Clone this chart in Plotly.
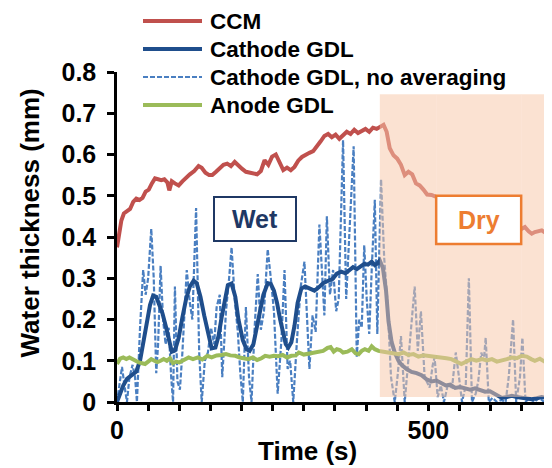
import plotly.graph_objects as go

# ---------------- data ----------------
ccm_t = [0, 3, 7, 11, 16, 21, 26, 31, 36, 41, 46, 51, 56, 61, 66, 71, 76, 81, 84, 88, 93, 99,
         105, 111, 117, 124, 131, 136, 142, 148, 153, 159, 165, 171, 177, 183, 189, 195, 201,
         207, 213, 219, 225, 231, 237, 243, 249, 255, 261, 267, 273, 279, 285, 291, 297, 303,
         309, 315, 321, 327, 333, 339, 345, 351, 357, 363, 369, 375, 381, 387, 393, 399, 405,
         411, 417, 423, 428, 433, 438, 444, 450, 456, 462, 468, 474, 480, 486, 492, 498, 505,
         513, 525, 540, 555, 570, 585, 600, 615, 630, 645, 650, 655, 661, 666, 671, 677, 682,
         688, 693, 698]
ccm_y = [0.375, 0.41, 0.44, 0.457, 0.462, 0.468, 0.485, 0.493, 0.49, 0.495, 0.51, 0.515, 0.53,
         0.542, 0.54, 0.538, 0.54, 0.532, 0.513, 0.535, 0.53, 0.525, 0.535, 0.545, 0.552, 0.56,
         0.572, 0.568, 0.556, 0.55, 0.55, 0.558, 0.565, 0.575, 0.578, 0.572, 0.582, 0.572,
         0.565, 0.558, 0.556, 0.552, 0.552, 0.56, 0.586, 0.575, 0.595, 0.6, 0.578, 0.562,
         0.568, 0.562, 0.57, 0.585, 0.594, 0.6, 0.604, 0.608, 0.622, 0.632, 0.645, 0.65,
         0.642, 0.648, 0.638, 0.645, 0.655, 0.65, 0.66, 0.652, 0.657, 0.662, 0.655, 0.665,
         0.662, 0.668, 0.672, 0.655, 0.615, 0.598, 0.59, 0.575, 0.55, 0.558, 0.552, 0.53,
         0.525, 0.515, 0.503, 0.502, 0.497, 0.485, 0.475, 0.46, 0.452, 0.445, 0.438, 0.432,
         0.428, 0.423, 0.42, 0.424, 0.414, 0.408, 0.412, 0.415, 0.416, 0.41, 0.404, 0.404]

gdl_t = [0, 5, 10, 16, 26, 31, 37, 42, 48, 53, 58, 63, 68, 73, 79, 84, 88, 93, 99, 105, 111,
         117, 123, 128, 134, 140, 146, 152, 158, 163, 168, 173, 178, 184, 190, 195, 202, 208,
         213, 219, 224, 230, 235, 242, 247, 252, 257, 262, 267, 271, 275, 280, 285, 290, 296,
         302, 308, 317, 324, 331, 339, 346, 353, 360, 367, 374, 379, 385, 391, 397, 403, 409,
         414, 418, 422, 427, 432, 436, 441, 446, 452, 457, 465, 473, 481, 489, 497, 505, 513,
         521, 528, 535, 543, 551, 559, 567, 575, 583, 591, 599, 607, 613, 618, 626, 634, 642,
         650, 658, 666, 674, 682, 690, 698]
gdl_y = [0.0, 0.02, 0.04, 0.056, 0.068, 0.074, 0.10, 0.14, 0.197, 0.235, 0.258, 0.255, 0.235,
         0.215, 0.18, 0.145, 0.122, 0.125, 0.155, 0.205, 0.25, 0.28, 0.294, 0.288, 0.255, 0.21,
         0.165, 0.13, 0.132, 0.16, 0.205, 0.25, 0.283, 0.287, 0.255, 0.2, 0.15, 0.128, 0.124,
         0.14, 0.175, 0.22, 0.26, 0.288, 0.286, 0.27, 0.24, 0.2, 0.165, 0.14, 0.132, 0.145,
         0.185, 0.24, 0.275, 0.28, 0.276, 0.27, 0.278, 0.288, 0.294, 0.298, 0.311, 0.316,
         0.312, 0.322, 0.327, 0.322, 0.33, 0.335, 0.333, 0.34, 0.332, 0.336, 0.343, 0.325,
         0.27, 0.195, 0.145, 0.12, 0.1, 0.09, 0.08, 0.073, 0.07, 0.065, 0.055, 0.05, 0.052,
         0.046, 0.04, 0.042, 0.034, 0.036, 0.032, 0.03, 0.033, 0.028, 0.025, 0.026, 0.02,
         0.015, 0.01, 0.012, 0.015, 0.012, 0.01, 0.008, 0.007, 0.009, 0.012, 0.01, 0.009]

raw_t = [0, 4, 8, 12, 16, 20, 25, 29, 32, 37, 42, 46, 50, 55, 59, 63, 66, 70, 74, 78, 83, 87,
         90, 93, 97, 101, 105, 112, 117, 121, 127, 132, 136, 141, 146, 151, 156, 160, 165, 169,
         175, 180, 184, 189, 194, 198, 202, 207, 212, 216, 221, 226, 231, 236, 242, 247, 252,
         258, 264, 269, 274, 278, 283, 289, 295, 301, 305, 309, 314, 319, 325, 330, 333, 337,
         342, 347, 352, 356, 363, 368, 373, 380, 385, 389, 393, 397, 401, 405, 409, 414, 418,
         424, 429, 434, 440, 446, 451, 456, 462, 467, 473, 478, 483, 488, 494, 502, 507, 510,
         515, 520, 525, 531, 538, 544, 550, 554, 560, 565, 570, 576, 580, 585, 589, 592, 597,
         603, 610, 617, 624, 629, 636, 641, 647, 651, 656, 662, 670, 678, 686, 694, 698]
raw_y = [0.0, 0.05, 0.085, 0.04, 0.0, 0.06, 0.09, 0.06, 0.0, 0.18, 0.32, 0.26, 0.30, 0.42,
         0.30, 0.07, 0.14, 0.33, 0.20, 0.14, 0.18, 0.06, 0.0, 0.28, 0.05, 0.03, 0.12, 0.32,
         0.24, 0.20, 0.47, 0.12, 0.0, 0.10, 0.12, 0.18, 0.14, 0.23, 0.26, 0.06, 0.22, 0.30,
         0.375, 0.25, 0.17, 0.07, 0.0, 0.23, 0.06, 0.0, 0.18, 0.31, 0.175, 0.22, 0.37, 0.30,
         0.22, 0.02, 0.15, 0.32, 0.08, 0.10, 0.0, 0.15, 0.28, 0.34, 0.20, 0.08, 0.21, 0.17,
         0.43, 0.30, 0.21, 0.45, 0.26, 0.32, 0.22, 0.25, 0.635, 0.25, 0.40, 0.62, 0.11, 0.20,
         0.18, 0.38, 0.25, 0.165, 0.32, 0.49, 0.165, 0.54, 0.35, 0.25, 0.06, 0.0, 0.07, 0.16,
         0.0, 0.09, 0.18, 0.28, 0.124, 0.22, 0.06, 0.035, 0.09, 0.108, 0.012, 0.04, 0.0, 0.04,
         0.035, 0.12, 0.05, 0.0, 0.04, 0.30, 0.0, 0.02, 0.05, 0.12, 0.10, 0.156, 0.0, 0.01,
         0.0, 0.005, 0.0, 0.06, 0.20, 0.0, 0.06, 0.156, 0.0, 0.01, 0.0, 0.01, 0.0, 0.008, 0.0]

anode_t = [0, 5, 10, 15, 20, 25, 30, 35, 40, 45, 50, 55, 60, 65, 70, 75, 80, 85, 90, 95, 100,
           108, 115, 122, 130, 137, 145, 152, 160, 168, 175, 182, 190, 197, 204, 211, 218, 225,
           232, 238, 245, 252, 259, 266, 273, 280, 287, 292, 300, 307, 315, 323, 331, 338, 343,
           348, 353, 358, 363, 370, 377, 383, 388, 393, 398, 404, 409, 414, 420, 428, 436, 444,
           452, 460, 468, 476, 484, 492, 500, 510, 521, 529, 537, 545, 553, 561, 569, 577, 586,
           594, 602, 610, 618, 626, 634, 642, 650, 658, 665, 671, 679, 687, 693, 698]
anode_y = [0.092, 0.105, 0.108, 0.104, 0.108, 0.103, 0.1, 0.096, 0.093, 0.092, 0.098, 0.104,
           0.1, 0.097, 0.1, 0.104, 0.1, 0.106, 0.094, 0.098, 0.096, 0.102, 0.108, 0.104, 0.108,
           0.103, 0.112, 0.108, 0.113, 0.114, 0.116, 0.113, 0.112, 0.108, 0.106, 0.104, 0.108,
           0.102, 0.106, 0.112, 0.11, 0.112, 0.111, 0.114, 0.108, 0.112, 0.113, 0.12, 0.115,
           0.117, 0.12, 0.124, 0.124, 0.131, 0.133, 0.122, 0.128, 0.126, 0.12, 0.122, 0.128,
           0.118, 0.116, 0.124, 0.128, 0.124, 0.135, 0.128, 0.124, 0.122, 0.12, 0.118, 0.116,
           0.12, 0.114, 0.116, 0.11, 0.113, 0.112, 0.11, 0.108, 0.106, 0.104, 0.097, 0.092,
           0.098, 0.104, 0.1, 0.104, 0.101, 0.104, 0.098, 0.1, 0.104, 0.108, 0.106, 0.112,
           0.11, 0.104, 0.1, 0.105, 0.096, 0.092, 0.088]

series_names = ["CCM", "Cathode GDL", "Cathode GDL, no averaging", "Anode GDL"]
y_ticks = [0, 0.1, 0.2, 0.3, 0.4, 0.5, 0.6, 0.7, 0.8]
x_ticks = [0, 500]
wet_label, dry_label = "Wet", "Dry"
dry_start = 422

# ---------------- style ----------------
RED, BLUE, LBLUE, GREEN = "#C0504D", "#1F4E8C", "#4A7FC1", "#9BBB59"
FONT = "Arial, Liberation Sans, sans-serif"
OFF = 8                      # default page body margin
W, H = 552 - OFF, 468 - OFF
ML, MR, MT, MB = 117 - OFF, 0, 72 - OFF, H - (402 - OFF)
PW, PH = W - ML - MR, H - MT - MB


def xp(px):
    """page pixel x -> paper coordinate"""
    return (px - OFF - ML) / PW


def yp(py):
    """page pixel y -> paper coordinate"""
    return (H - MB - (py - OFF)) / PH


fig = go.Figure()
fig.add_trace(go.Scatter(x=ccm_t, y=ccm_y, mode="lines", name=series_names[0],
                         line=dict(color=RED, width=4)))
fig.add_trace(go.Scatter(x=raw_t, y=raw_y, mode="lines", name=series_names[2],
                         line=dict(color=LBLUE, width=2.2, dash="5px,2px")))
fig.add_trace(go.Scatter(x=gdl_t, y=gdl_y, mode="lines", name=series_names[1],
                         line=dict(color=BLUE, width=4)))
fig.add_trace(go.Scatter(x=anode_t, y=anode_y, mode="lines", name=series_names[3],
                         line=dict(color=GREEN, width=4)))

# translucent dry-phase band, drawn around the opaque "Dry" box
band = dict(x0=dry_start, x1=720, y0=0.012, y1=0.746)
dbox = dict(x0=512.5, x1=649.0, y0=0.383, y1=0.500)
band_fill = "rgba(248,200,168,0.52)"
band_parts = [
    (band["x0"], dbox["x0"], band["y0"], band["y1"]),
    (dbox["x1"], band["x1"], band["y0"], band["y1"]),
    (dbox["x0"], dbox["x1"], dbox["y1"], band["y1"]),
    (dbox["x0"], dbox["x1"], band["y0"], dbox["y0"]),
]
shapes = [dict(type="rect", xref="x", yref="y", x0=a, x1=b, y0=c, y1=d,
               fillcolor=band_fill, line=dict(width=0), layer="above")
          for a, b, c, d in band_parts]
shapes.append(dict(type="rect", xref="x", yref="y", x0=dbox["x0"], x1=dbox["x1"],
                   y0=dbox["y0"], y1=dbox["y1"], fillcolor="white",
                   line=dict(color="#ED7D31", width=2.5), layer="above"))

annotations = [
    dict(x=221, y=0.443, xref="x", yref="y", text=wet_label, showarrow=False,
         xanchor="center", yanchor="middle", width=80, height=42, borderpad=0,
         bgcolor="white", bordercolor="#1F3864", borderwidth=2,
         font=dict(family=FONT, size=25, color="#1F3864", weight="bold")),
    dict(x=581, y=0.442, xref="x", yref="y", text=dry_label, showarrow=False,
         xanchor="center", yanchor="middle",
         font=dict(family=FONT, size=25, color="#ED7D31", weight="bold")),
    dict(x=xp(29.5), y=yp(223), xref="paper", yref="paper", text="Water thickness (mm)",
         textangle=-90, showarrow=False, xanchor="center", yanchor="middle",
         font=dict(family=FONT, size=26, color="black", weight="bold")),
    dict(x=xp(307), y=yp(451), xref="paper", yref="paper", text="Time (s)",
         showarrow=False, xanchor="center", yanchor="middle",
         font=dict(family=FONT, size=26, color="black", weight="bold")),
]

# custom legend (page pixel rows)
leg_rows = [21, 49, 77, 105]
leg_styles = [dict(color=RED, width=4), dict(color=BLUE, width=4),
              dict(color=LBLUE, width=2.2, dash="5px,2px"), dict(color=GREEN, width=4)]
for name, row, st in zip(series_names, leg_rows, leg_styles):
    shapes.append(dict(type="line", xref="paper", yref="paper", x0=xp(143), x1=xp(202),
                       y0=yp(row), y1=yp(row), line=st))
    annotations.append(dict(x=xp(208), y=yp(row), xref="paper", yref="paper", text=name,
                            xanchor="left", yanchor="middle", showarrow=False,
                            font=dict(family=FONT, size=22.5, color="black", weight="bold")))

fig.update_layout(
    width=W, height=H, margin=dict(l=ML, r=MR, t=MT, b=MB, pad=0),
    paper_bgcolor="white", plot_bgcolor="white", showlegend=False,
    font=dict(family=FONT, color="black"),
    shapes=shapes, annotations=annotations,
    xaxis=dict(range=[0, 698.5], tickvals=x_ticks, ticks="outside", ticklen=6, tickwidth=2.5,
               tickcolor="black", showline=True, linecolor="black", linewidth=2.5,
               showgrid=False, zeroline=False, ticklabelstandoff=-2,
               tickfont=dict(family=FONT, size=25, weight="bold"),
               minor=dict(dtick=50, tick0=0, ticks="outside", ticklen=6, tickwidth=2.5,
                          tickcolor="black", showgrid=False)),
    yaxis=dict(range=[0, 0.8], tickvals=y_ticks, ticks="outside", ticklen=7, tickwidth=2.5,
               tickcolor="black", showline=True, linecolor="black", linewidth=2.5,
               showgrid=False, zeroline=False, ticklabelstandoff=6,
               tickfont=dict(family=FONT, size=25, weight="bold")),
)

fig.write_html("out.html")
